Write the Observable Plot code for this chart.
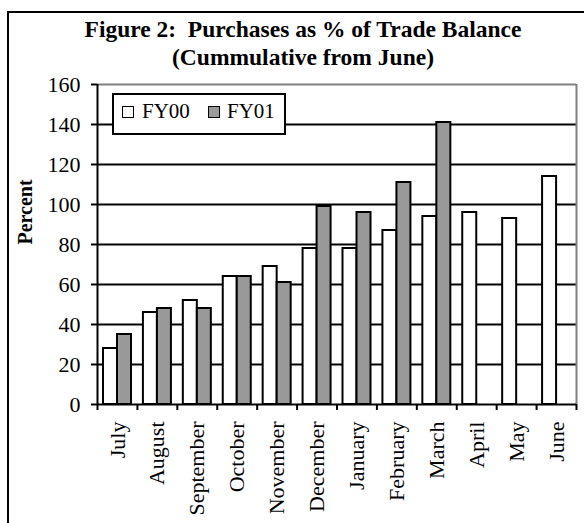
<!DOCTYPE html>
<html>
<head>
<meta charset="utf-8">
<script src="https://cdn.jsdelivr.net/npm/d3@7"></script>
<script src="https://cdn.jsdelivr.net/npm/@observablehq/plot@0.6"></script>
<style>
  html, body { margin: 0; padding: 0; background: #fff; overflow: hidden; }
  #fig { position: relative; width: 584px; height: 523px; font-family: "Liberation Serif", "Times New Roman", serif; color: #000; }
  #fig svg { position: absolute; left: 0; top: 0; }
  #border { position: absolute; left: 7px; top: 11px; width: 660px; height: 640px; border: 2px solid #000; pointer-events: none; }
  #title { position: absolute; left: 0; top: 15px; width: 606px; text-align: center; font-weight: bold; font-size: 23.5px; line-height: 28px; white-space: nowrap; }
  #legend { position: absolute; left: 112px; top: 93px; width: 174px; height: 42px; box-sizing: border-box; border: 2px solid #000; background: #fff; font-size: 21px; line-height: 21px; }
  #legend .sw { position: absolute; top: 11px; width: 12px; height: 12px; box-sizing: border-box; border: 1.5px solid #000; }
  #legend .lb { position: absolute; top: 6px; white-space: nowrap; }
</style>
</head>
<body>
<div id="fig">
  <div id="chart"></div>
  <div id="title">Figure 2:&nbsp; Purchases as % of Trade Balance<br>(Cummulative from June)</div>
  <div id="legend"></div>
  <div id="border"></div>
</div>
<script>
// Months of the fiscal year, July through June
const months = ["July", "August", "September", "October", "November", "December",
                "January", "February", "March", "April", "May", "June"];
// Cumulative purchases as a percent of the trade balance
const fy00 = [28, 46, 52, 64, 69, 78, 78, 87, 94, 96, 93, 114];
const fy01 = [35, 48, 48, 64, 61, 99, 96, 111, 141];
const seriesNames = ["FY00", "FY01"];
const seriesFills = ["#ffffff", "#999999"];
const yTicks = [0, 20, 40, 60, 80, 100, 120, 140, 160];

const W = 584, H = 523;
const mL = 97, mR = 8, mT = 84, mB = 119;
const step = (W - mL - mR) / months.length;
const barW = 14, edge = 6;

const rows00 = months.map((m, i) => ({month: m, value: fy00[i]}));
const rows01 = fy01.map((v, i) => ({month: months[i], value: v}));
const last = months[months.length - 1];

const chart = Plot.plot({
  width: W,
  height: H,
  marginLeft: mL,
  marginRight: mR,
  marginTop: mT,
  marginBottom: mB,
  style: {fontFamily: "Liberation Serif, Times New Roman, serif", fontSize: "22px", color: "#000", background: "transparent", overflow: "visible"},
  x: {domain: months, padding: 0, round: false},
  y: {domain: [0, 160]},
  marks: [
    // horizontal gridlines
    Plot.ruleY(yTicks.filter(v => v > 0 && v < 160), {stroke: "#000", strokeWidth: 2}),
    // plot-area border (top and right)
    Plot.ruleY([160], {stroke: "#808080", strokeWidth: 2}),
    Plot.ruleX([last], {x: d => d, dx: step / 2, stroke: "#808080", strokeWidth: 2}),
    // bars
    Plot.barY(rows00, {x: "month", y: "value", fill: seriesFills[0], stroke: "#000", strokeWidth: 2,
      insetLeft: edge, insetRight: step - edge - barW}),
    Plot.barY(rows01, {x: "month", y: "value", fill: seriesFills[1], stroke: "#000", strokeWidth: 2,
      insetLeft: edge + barW, insetRight: step - edge - 2 * barW}),
    // axis lines
    Plot.ruleY([0], {stroke: "#000", strokeWidth: 2}),
    Plot.ruleX([months[0]], {x: d => d, dx: -step / 2, stroke: "#000", strokeWidth: 2}),
    // category boundary ticks below the baseline
    Plot.ruleX(months, {x: d => d, dx: -step / 2, y1: 0, insetBottom: -6, stroke: "#000", strokeWidth: 2}),
    Plot.ruleX([last], {x: d => d, dx: step / 2, y1: 0, insetBottom: -6, stroke: "#000", strokeWidth: 2}),
    Plot.axisY({ticks: yTicks, tickSize: 6, tickPadding: 11, strokeWidth: 2, label: null, fontSize: 22}),
    Plot.axisX({tickSize: 0, tickRotate: -90, tickPadding: 17, label: null, fontSize: 22}),
    Plot.text(["Percent"], {text: d => d, frameAnchor: "left", dx: -72, rotate: -90,
      fontWeight: "bold", fontSize: 20, fill: "#000"})
  ]
});
document.getElementById("chart").appendChild(chart);

// legend
const legend = document.getElementById("legend");
const swLeft = [8, 94], lbLeft = [28, 113];
seriesNames.forEach((name, i) => {
  const sw = document.createElement("div");
  sw.className = "sw";
  sw.style.left = swLeft[i] + "px";
  sw.style.background = seriesFills[i];
  legend.appendChild(sw);
  const lb = document.createElement("div");
  lb.className = "lb";
  lb.style.left = lbLeft[i] + "px";
  lb.textContent = name;
  legend.appendChild(lb);
});
</script>
</body>
</html>
